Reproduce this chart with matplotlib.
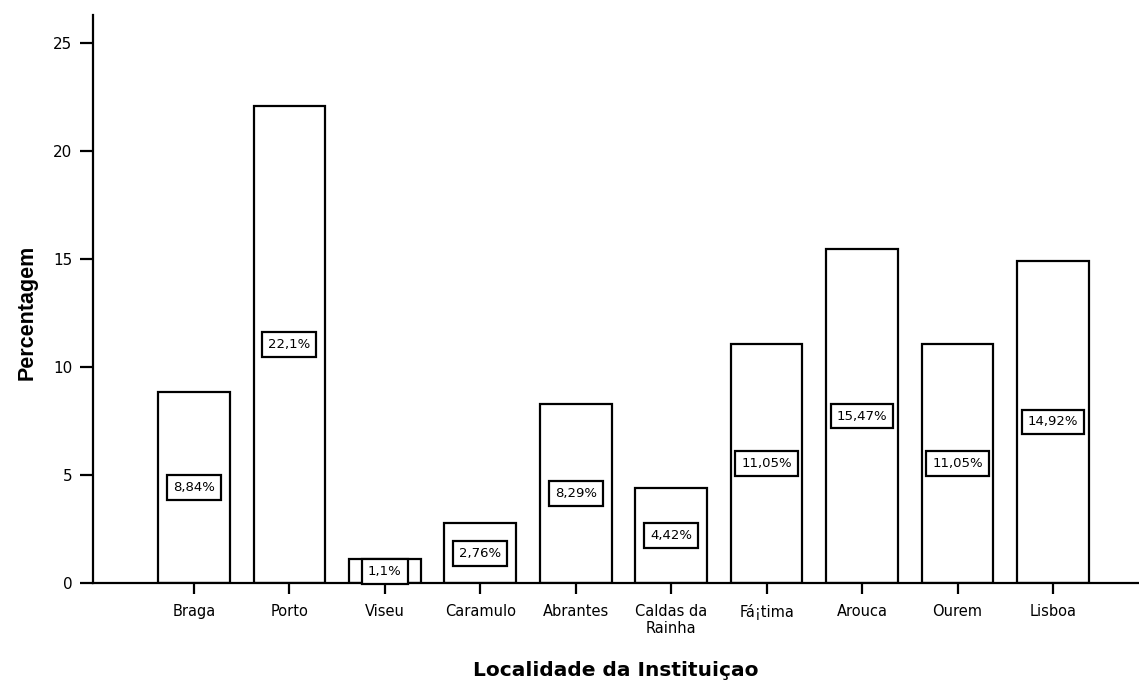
import numpy as np
from matplotlib import pyplot as plt

locais = ['Braga', 'Porto', 'Viseu', 'Caramulo', 'Abrantes', 'Caldas da\nRainha',
          'Fá¡tima', 'Arouca', 'Ourem', 'Lisboa']
percent = [8.84, 22.1, 1.1, 2.76, 8.29, 4.42, 11.05, 15.47, 11.05, 14.92]
rotulos = ['8,84%', '22,1%', '1,1%', '2,76%', '8,29%', '4,42%', '11,05%', '15,47%', '11,05%', '14,92%']

plt.rcParams['font.family'] = ['DejaVu Sans']

fig = plt.figure(figsize=(11.39, 6.82), dpi=100)
ax = fig.add_axes([0.0817, 0.145, 0.9183, 0.833])

x = np.arange(len(locais))
ax.bar(x, percent, width=0.75, color='white', edgecolor='black', linewidth=1.6, zorder=2)

for xi, v, r in zip(x, percent, rotulos):
    ax.text(xi, v / 2, r, ha='center', va='center', fontsize=9.5, zorder=3,
            bbox=dict(boxstyle='square,pad=0.45', facecolor='white', edgecolor='black', linewidth=1.6))

ax.set_xlim(-1.056, 9.9)
ax.set_ylim(0, 26.3)
ax.set_yticks([0, 5, 10, 15, 20, 25])
ax.set_xticks(x)
ax.set_xticklabels(locais, fontsize=10.5)
ax.tick_params(axis='y', labelsize=11, length=9.5, width=1.6, direction='out', pad=5.5)
ax.tick_params(axis='x', length=8, width=1.6, direction='out', pad=7)

for s in ['top', 'right']:
    ax.spines[s].set_visible(False)
for s in ['left', 'bottom']:
    ax.spines[s].set_linewidth(1.6)

ax.set_ylabel('Percentagem', fontsize=15.5, fontweight='bold',
              family=['Liberation Sans Narrow', 'Liberation Sans'])
ax.yaxis.set_label_coords(-0.053, 0.477)
ax.set_xlabel('Localidade da Instituiçao', fontsize=14.5, fontweight='bold', labelpad=18)

fig.savefig('out.png', dpi=100)
